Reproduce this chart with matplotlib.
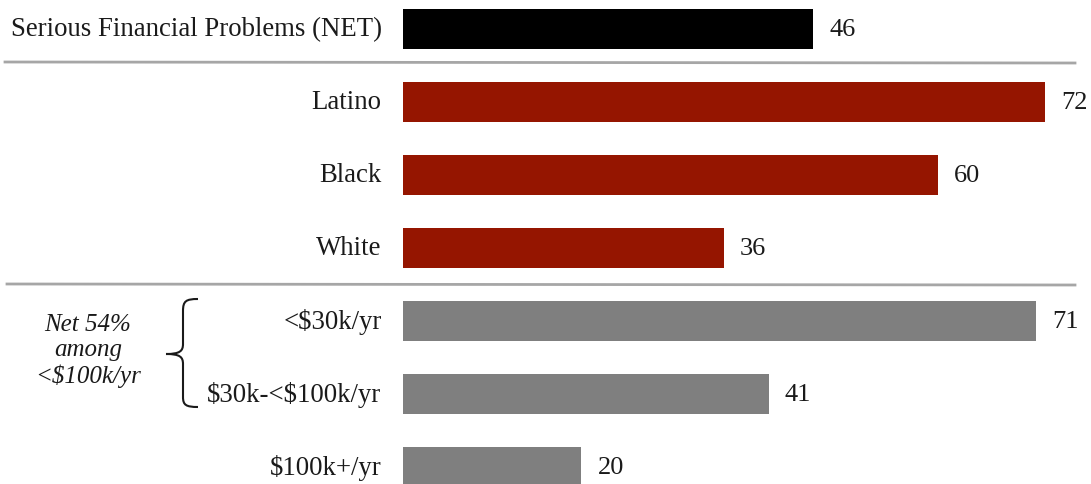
import numpy as np
import matplotlib.pyplot as plt
from matplotlib.path import Path
from matplotlib.patches import PathPatch

labels = ["Serious Financial Problems (NET)", "Latino", "Black", "White",
          "<$30k/yr", "$30k-<$100k/yr", "$100k+/yr"]
values = [46, 72, 60, 36, 71, 41, 20]
colors = ["#000000", "#951500", "#951500", "#951500", "#7f7f7f", "#7f7f7f", "#7f7f7f"]
note = "Net 54%\namong\n<$100k/yr"

plt.rcParams['font.family'] = ['Liberation Serif', 'DejaVu Serif']
plt.rcParams['text.parse_math'] = False

W, H = 1091, 485
fig = plt.figure(figsize=(W / 100, H / 100), dpi=100)

# background axes in pixel coords for separators and bracket
bg = fig.add_axes([0, 0, 1, 1])
bg.set_xlim(0, W)
bg.set_ylim(H, 0)
bg.axis("off")

# bar axes: starts at x=403px, 73px per row, centre of first row at 30px
x0 = 403
px_per_unit = 8.92
ax = fig.add_axes([x0 / W, 0, (W - x0) / W, 1])
ax.patch.set_alpha(0)
ax.set_xlim(0, (W - x0) / px_per_unit)
row = 73.0
ax.set_ylim((H - 30) / row, -30 / row)
ax.axis("off")

y = np.arange(len(values))
ax.barh(y, values, height=0.55, color=colors)
for yi, v, lab in zip(y, values, labels):
    ax.text(v + 1.8, yi, str(v), va="center", ha="left", fontsize=19, color="#1a1a1a")
    ax.text(-2.4, yi, lab, va="center", ha="right", fontsize=19.3, color="#1a1a1a", clip_on=False)

# separator lines
bg.plot([5, 1075], [63, 64], color="#a6a6a6", lw=2)
bg.plot([7, 1075], [285, 286], color="#a6a6a6", lw=2)

# curly bracket
verts = [(198, 300), (186, 300), (183, 302), (183, 312),
         (183, 345),
         (183, 352), (180, 355), (166, 355),
         (180, 355), (183, 358), (183, 365),
         (183, 398),
         (183, 406), (186, 408), (198, 408)]
codes = [Path.MOVETO, Path.CURVE4, Path.CURVE4, Path.CURVE4,
         Path.LINETO,
         Path.CURVE4, Path.CURVE4, Path.CURVE4,
         Path.CURVE4, Path.CURVE4, Path.CURVE4,
         Path.LINETO,
         Path.CURVE4, Path.CURVE4, Path.CURVE4]
bg.add_patch(PathPatch(Path(verts, codes), facecolor="none", edgecolor="#1a1a1a", lw=1.5))

bg.text(88, 351, note, ha="center", va="center", fontsize=18, style="italic",
        color="#1a1a1a", linespacing=1.2)

fig.savefig("out.png", dpi=100)
